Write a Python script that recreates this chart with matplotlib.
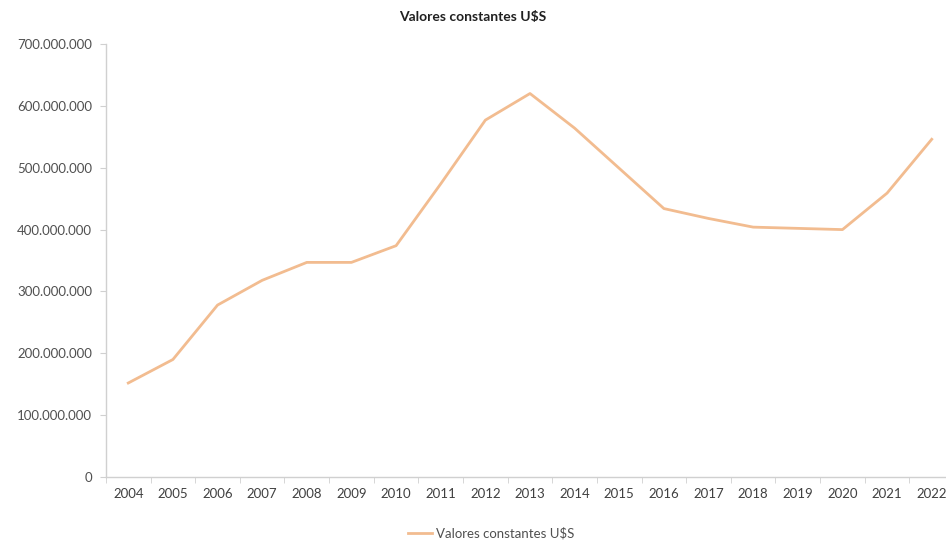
import matplotlib.pyplot as plt
from matplotlib.ticker import FuncFormatter

years = [str(y) for y in range(2004, 2023)]
valores = [152e6, 190e6, 278e6, 318e6, 347e6, 347e6, 374e6, 474e6, 577e6, 620e6,
           564e6, 499e6, 434e6, 418e6, 404e6, 402e6, 400e6, 459e6, 546e6]
titulo = 'Valores constantes U$S'

plt.rcParams['font.family'] = ['Lato', 'DejaVu Sans']

fig = plt.figure(figsize=(9.46, 5.43), dpi=100)
# el eje se sale un poco por la derecha, como en la imagen original
ax = fig.add_axes([0.112, 0.1215, 0.8965, 0.7974])

x = list(range(len(years)))
ax.plot(x, valores, color='#F2BC90', linewidth=2.0, label=titulo, solid_joinstyle='round')

ax.set_xlim(-0.5, len(years) - 0.5)
ax.set_ylim(0, 700e6)
ax.set_yticks([i * 100e6 for i in range(8)])
ax.yaxis.set_major_formatter(FuncFormatter(lambda v, p: f'{int(v):,}'.replace(',', '.')))

ax.set_xticks(x)
ax.set_xticklabels(years)
ax.set_xticks([i - 0.5 for i in range(len(years) + 1)], minor=True)
ax.tick_params(axis='x', which='major', length=0, pad=8, labelsize=9.5, labelcolor='#404040')
ax.tick_params(axis='x', which='minor', length=4, color='#D0D0D0', direction='out')
ax.tick_params(axis='y', length=4, color='#D0D0D0', pad=6, labelsize=9.5, labelcolor='#505050')

for s in ['top', 'right']:
    ax.spines[s].set_visible(False)
for s in ['left', 'bottom']:
    ax.spines[s].set_color('#D0D0D0')
    ax.spines[s].set_linewidth(1)

fig.text(0.5, 0.968, titulo, ha='center', va='center', fontsize=10, fontweight='bold', color='#202020')

fig.legend(loc='center', bbox_to_anchor=(0.519, 0.018), frameon=False, fontsize=9.5,
           handlelength=1.8, handletextpad=0.3, labelcolor='#505050')

fig.savefig('out.png', dpi=100)
